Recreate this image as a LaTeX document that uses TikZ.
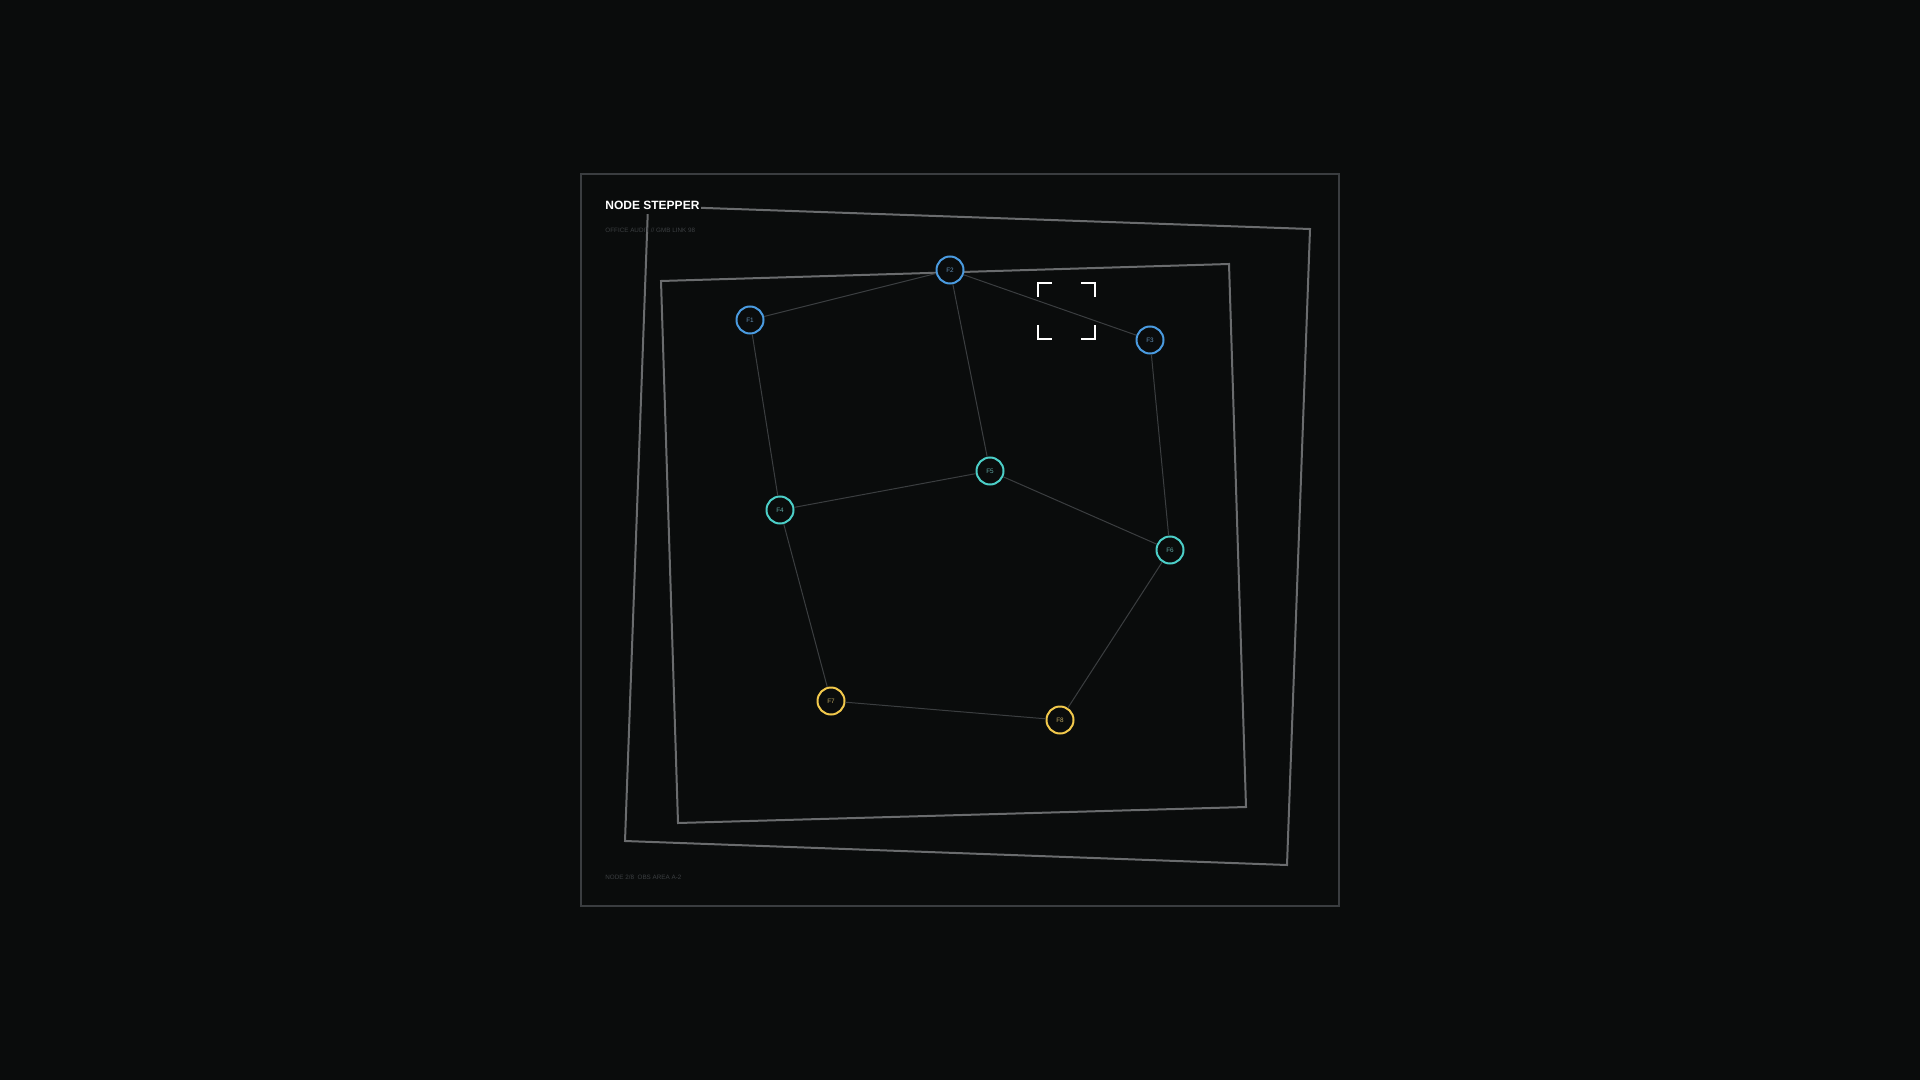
\documentclass[tikz,border=0pt]{standalone}
\usepackage{fontspec}
\setmainfont{Liberation Sans}
\definecolor{bgc}{HTML}{0A0C0C}
\definecolor{framec}{HTML}{3A3D40}
\definecolor{sqc}{HTML}{6A6C6E}
\definecolor{edgec}{HTML}{3B3E40}
\definecolor{subc}{HTML}{3C3F42}
\definecolor{fblue}{HTML}{4A9BE0}
\definecolor{fcyan}{HTML}{4CCFC8}
\definecolor{fyellow}{HTML}{F2C94C}

\begin{document}
\begin{tikzpicture}[x=0.5pt,y=-0.5pt,
  fnode/.style={circle,draw=#1,line width=1pt,fill=bgc,minimum size=13.5pt,inner sep=0pt,
    text=#1!55!gray,font=\fontsize{3.2}{3.2}\selectfont},
  link/.style={draw=edgec,line width=0.5pt},
  note/.style={anchor=west,inner sep=0pt,text=subc,font=\fontsize{3.15}{4}\selectfont}]

\useasboundingbox[fill=bgc] (0,0) rectangle (1920,1080);

\draw[framec,line width=0.75pt] (581,174) rectangle (1339,906);

% tilted squares
\draw[sqc,line width=1pt] (648,206) -- (1310,229) -- (1287,865) -- (625,841) -- cycle;
\draw[sqc,line width=1pt] (661,281) -- (1229,264) -- (1246,807) -- (678,823) -- cycle;

\node[anchor=west,inner xsep=1pt,inner ysep=2.5pt,fill=bgc,text=white,font=\bfseries\fontsize{6}{6}\selectfont] (title) at (603,205) {NODE STEPPER};
\node[note] (sub) at (605,230) {OFFICE AUDIT // GMB LINK 98};
\node[note] (foot) at (605,877) {NODE 2/8\ \ OBS AREA A-2};

\node[fnode=fblue] (f1) at (750,320) {F1\hspace{2pt}};
\node[fnode=fblue] (f2) at (950,270) {F2\hspace{2pt}};
\node[fnode=fblue] (f3) at (1150,340) {F3\hspace{2pt}};
\node[fnode=fcyan] (f4) at (780,510) {F4\hspace{2pt}};
\node[fnode=fcyan] (f5) at (990,471) {F5\hspace{2pt}};
\node[fnode=fcyan] (f6) at (1170,550) {F6\hspace{2pt}};
\node[fnode=fyellow] (f7) at (831,701) {F7\hspace{2pt}};
\node[fnode=fyellow] (f8) at (1060,720) {F8\hspace{2pt}};

\foreach \a/\b in {f1/f2,f2/f3,f2/f5,f1/f4,f3/f6,f4/f5,f5/f6,f4/f7,f6/f8,f7/f8}
  \draw[link] (\a) -- (\b);

% focus brackets
\coordinate (bl) at (1038,283);
\coordinate (br) at (1095,339);
\draw[white,line width=1pt] (bl) ++(0,14) -- (bl) -- ++(14,0);
\draw[white,line width=1pt] (bl -| br) ++(-14,0) -- (bl -| br) -- ++(0,14);
\draw[white,line width=1pt] (br) ++(-14,0) -- (br) -- ++(0,-14);
\draw[white,line width=1pt] (br -| bl) ++(0,-14) -- (br -| bl) -- ++(14,0);

\end{tikzpicture}
\end{document}
